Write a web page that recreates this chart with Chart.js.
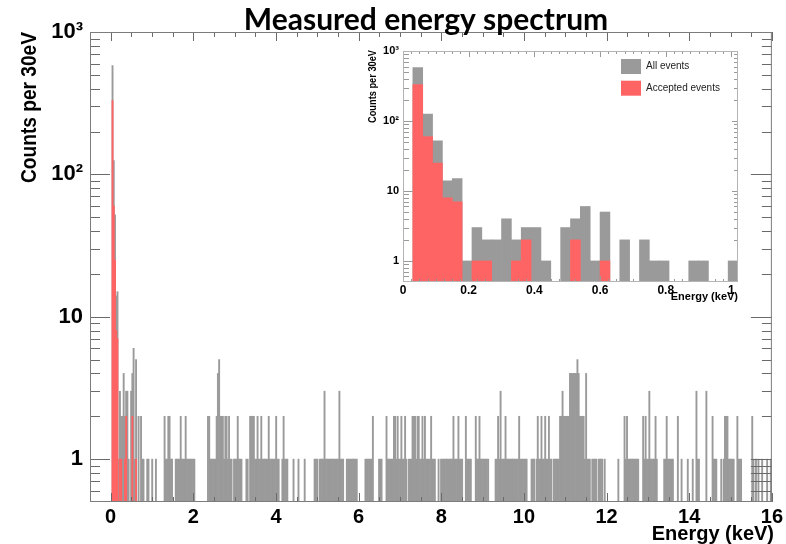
<!DOCTYPE html>
<html>
<head>
<meta charset="utf-8">
<title>Measured energy spectrum</title>
<script src="https://cdn.jsdelivr.net/npm/chart.js@4.4.1/dist/chart.umd.min.js"></script>
<style>
  body { margin: 0; background: #fff; }
  #wrap { position: relative; width: 786px; height: 544px; }
  #mainChart { position: absolute; left: 0; top: 0; }
  #insetChart { position: absolute; left: 340px; top: 40px; }
</style>
</head>
<body>
<div id="wrap">
  <canvas id="mainChart" width="786" height="544"></canvas>
  <canvas id="insetChart" width="410" height="270"></canvas>
</div>
<script>
// histogram bins are 30 eV wide, bin 0 starts at 0 keV
const binWidth = 0.03;

// all events, counts per bin (10 bins = 0.3 keV per row)
const allEvents = [
  0, 580, 125, 52, 14, 15, 1, 3, 2, 2,   // 0.0 keV
  4, 2, 3, 3, 1, 0, 3, 4, 6, 1,          // 0.3
  5, 0, 2, 0, 2, 1, 1, 0, 0, 1,          // 0.6
  1, 0, 0, 1, 0, 0, 1, 0, 0, 0,          // 0.9
  0, 0, 0, 2, 1, 1, 2, 2, 1, 1,          // 1.2
  0, 0, 1, 1, 1, 1, 2, 1, 1, 1,          // 1.5
  2, 1, 1, 1, 1, 1, 1, 1, 0, 0,          // 1.8
  0, 0, 0, 0, 0, 0, 0, 0, 2, 2,          // 2.1
  1, 1, 1, 1, 1, 2, 4, 5, 2, 2,          // 2.4
  2, 1, 2, 2, 1, 2, 1, 1, 0, 1,          // 2.7
  1, 1, 2, 1, 1, 1, 0, 0, 0, 1,          // 3.0
  1, 0, 2, 2, 2, 2, 1, 1, 2, 1,          // 3.3
  1, 2, 1, 1, 1, 1, 1, 2, 1, 1,          // 3.6
  1, 1, 1, 2, 1, 1, 0, 0, 1, 2,          // 3.9
  1, 1, 1, 0, 0, 0, 0, 1, 0, 0,          // 4.2
  0, 1, 0, 0, 0, 0, 1, 0, 0, 0,          // 4.5
  0, 0, 0, 0, 1, 1, 1, 0, 1, 1,          // 4.8
  1, 1, 3, 1, 1, 1, 1, 1, 1, 1,          // 5.1
  1, 1, 1, 1, 3, 1, 1, 1, 0, 0,          // 5.4
  1, 1, 1, 1, 1, 1, 1, 1, 1, 0,          // 5.7
  0, 0, 0, 0, 0, 1, 1, 1, 1, 1,          // 6.0
  1, 2, 0, 0, 0, 0, 1, 1, 1, 0,          // 6.3
  0, 0, 2, 1, 1, 1, 1, 1, 2, 2,          // 6.6
  1, 2, 1, 1, 2, 1, 1, 2, 1, 0,          // 6.9
  1, 1, 1, 2, 2, 2, 1, 2, 2, 1,          // 7.2
  1, 2, 1, 2, 1, 1, 1, 1, 2, 1,          // 7.5
  1, 1, 0, 0, 1, 0, 1, 1, 1, 1,          // 7.8
  1, 1, 1, 1, 1, 1, 2, 1, 1, 1,          // 8.1
  2, 1, 1, 1, 0, 0, 2, 1, 1, 1,          // 8.4
  1, 0, 0, 0, 2, 1, 1, 2, 1, 1,          // 8.7
  1, 1, 1, 1, 1, 0, 0, 0, 0, 0,          // 9.0
  1, 1, 2, 1, 3, 1, 1, 1, 2, 1,          // 9.3
  1, 1, 1, 1, 1, 1, 1, 1, 1, 2,          // 9.6
  1, 1, 1, 1, 1, 1, 0, 0, 0, 1,          // 9.9
  1, 1, 0, 1, 2, 1, 1, 2, 1, 1,          // 10.2
  2, 1, 1, 2, 1, 1, 0, 1, 1, 1,          // 10.5
  1, 1, 2, 2, 3, 2, 2, 2, 2, 2,          // 10.8
  4, 4, 4, 4, 4, 4, 5, 4, 2, 2,          // 11.1
  2, 2, 1, 4, 1, 1, 1, 0, 1, 1,          // 11.4
  1, 1, 0, 1, 1, 1, 1, 0, 1, 0,          // 11.7
  0, 0, 0, 0, 0, 0, 0, 0, 0, 1,          // 12.0
  0, 0, 0, 0, 2, 1, 2, 1, 1, 1,          // 12.3
  1, 1, 1, 1, 1, 1, 0, 0, 0, 2,          // 12.6
  1, 2, 1, 1, 3, 1, 1, 1, 1, 2,          // 12.9
  1, 0, 0, 0, 0, 0, 1, 1, 2, 1,          // 13.2
  1, 1, 1, 1, 0, 0, 0, 2, 0, 0,          // 13.5
  1, 0, 0, 0, 0, 1, 0, 0, 0, 1,          // 13.8
  0, 0, 3, 1, 1, 0, 0, 0, 0, 0,          // 14.1
  3, 0, 0, 0, 0, 2, 1, 1, 1, 0,          // 14.4
  0, 0, 1, 0, 1, 2, 2, 2, 1, 1,          // 14.7
  1, 1, 1, 0, 0, 2, 1, 1, 1, 0,          // 15.0
  0, 0, 0, 0, 0, 0, 0, 2, 1, 0,          // 15.3
  1, 0, 1, 0, 0, 1, 0, 0, 0, 1,          // 15.6
  0, 0, 1, 0                             // 15.9
];

// accepted events, counts per bin (all later bins are empty)
const acceptedEvents = [
  0, 330, 60, 25, 8, 7, 0, 1, 1, 0,
  0, 1, 2, 0, 0, 0, 0, 2, 0, 0,
  1
];

const insetBins = 34; // inset shows 0 - 1.02 keV

const mainXTicks = [0, 2, 4, 6, 8, 10, 12, 14, 16];
const insetXTicks = [0, 0.2, 0.4, 0.6, 0.8, 1];
const insetXTickLabels = ['0', '0.2', '0.4', '0.6', '0.8', '1'];
const yTicks = [1, 10, 100, 1000];
const yTickLabels = ['1', '10', '10\u00b2', '10\u00b3'];

const grayFill = '#9a9a9a';
const redFill = '#ff6464';

const toPoints = (counts, nBins) => counts.slice(0, nBins).map((c, i) => ({x: (i + 0.5) * binWidth, y: c > 0 ? c : null}));

//frame and inward ticks, like the ROOT canvas
const rootFrame = {
  id: 'rootFrame',
  afterDatasetsDraw(chart, args, o) {
    const {ctx, chartArea: a, scales: {x, y}} = chart;
    ctx.save();
    ctx.lineWidth = 1;
    ctx.strokeStyle = o.tickColor;
    ctx.beginPath();
    const xStart = Math.ceil(x.min / o.xMinor - 1e-9) * o.xMinor;
    for (let v = xStart; v <= x.max + 1e-9; v += o.xMinor) {
      const isMajor = Math.abs(v / o.xMajor - Math.round(v / o.xMajor)) < 1e-6;
      const len = isMajor ? o.xMajorLen : o.xMinorLen;
      const px = Math.round(x.getPixelForValue(v)) + 0.5;
      ctx.moveTo(px, a.bottom); ctx.lineTo(px, a.bottom - len);
      ctx.moveTo(px, a.top); ctx.lineTo(px, a.top + len);
    }
    for (let d = Math.floor(Math.log10(y.min)); d <= Math.ceil(Math.log10(y.max)); d++) {
      for (let m = 1; m <= 9; m++) {
        const v = m * Math.pow(10, d);
        if (v < y.min * 1.0001 || v > y.max * 1.0001) continue;
        const py = Math.round(y.getPixelForValue(v)) + 0.5;
        const leftLen = m === 1 ? o.yMajorLen : o.yMinorLen;
        let rightLen = m === 1 ? o.yRightMajorLen : o.yRightMinorLen;
        if (v < 1 && o.yRightLowLen) rightLen = o.yRightLowLen;
        ctx.moveTo(a.left, py); ctx.lineTo(a.left + leftLen, py);
        ctx.moveTo(a.right, py); ctx.lineTo(a.right - rightLen, py);
      }
    }
    ctx.stroke();
    ctx.strokeStyle = o.frameColor;
    ctx.strokeRect(a.left + 0.5, a.top + 0.5, a.right - a.left - 1, a.bottom - a.top - 1);
    ctx.restore();
  }
};

//titles drawn by hand so they sit where ROOT put them
const rootText = {
  id: 'rootText',
  afterDraw(chart, args, o) {
    const ctx = chart.ctx;
    for (const t of o.items) {
      ctx.save();
      ctx.font = t.font;
      ctx.fillStyle = t.color || '#000';
      ctx.textAlign = t.align || 'left';
      ctx.textBaseline = t.baseline || 'alphabetic';
      ctx.translate(t.x, t.y);
      if (t.rotate) ctx.rotate(t.rotate * Math.PI / 180);
      const w = ctx.measureText(t.text).width;
      if (t.fit && w > t.fit) ctx.scale(t.fit / w, 1);
      ctx.fillText(t.text, 0, 0);
      ctx.restore();
    }
  }
};

//boxed legend inside the inset frame
const boxLegend = {
  id: 'boxLegend',
  afterDraw(chart, args, o) {
    if (!o.show) return;
    const {ctx, chartArea: a} = chart;
    ctx.save();
    ctx.font = o.font;
    ctx.textBaseline = 'middle';
    chart.data.datasets.forEach((ds, i) => {
      const bx = a.right - o.right;
      const by = a.top + o.top + i * o.rowGap;
      ctx.fillStyle = ds.backgroundColor;
      ctx.fillRect(bx, by, o.boxW, o.boxH);
      ctx.fillStyle = '#222';
      ctx.fillText(ds.label, bx + o.boxW + 5, by + o.boxH / 2);
    });
    ctx.restore();
  }
};

const makeDatasets = (nBins) => [
  {label: 'All events', data: toPoints(allEvents, nBins), backgroundColor: grayFill, order: 2},
  {label: 'Accepted events', data: toPoints(acceptedEvents, nBins), backgroundColor: redFill, order: 1}
];

const axisFont = (size) => ({family: '"Liberation Sans", Arial, sans-serif', size: size, weight: 'bold'});

const mainChart = new Chart(document.getElementById('mainChart'), {
  type: 'bar',
  data: {datasets: makeDatasets(allEvents.length)},
  plugins: [rootFrame, rootText],
  options: {
    responsive: false,
    animation: false,
    layout: {padding: {top: 32, right: 12, left: 0, bottom: 0}},
    datasets: {bar: {grouped: false, barPercentage: 1, categoryPercentage: 1, borderWidth: 0}},
    scales: {
      x: {
        type: 'linear', min: -0.5, max: 16, offset: false,
        afterBuildTicks: (s) => { s.ticks = mainXTicks.map(v => ({value: v})); },
        afterFit: (s) => { s.height = 42; },
        ticks: {callback: (v) => String(v), font: axisFont(20), color: '#000', padding: 3, maxRotation: 0, autoSkip: false},
        grid: {display: false, drawTicks: false, offset: false},
        border: {display: false}
      },
      y: {
        type: 'logarithmic', min: 0.5, max: 1000,
        afterBuildTicks: (s) => { s.ticks = yTicks.map(v => ({value: v})); },
        afterFit: (s) => { s.width = 90; },
        ticks: {callback: (v, i) => yTickLabels[i], font: axisFont(22), color: '#000', padding: 7, autoSkip: false},
        grid: {display: false, drawTicks: false},
        border: {display: false}
      }
    },
    plugins: {
      legend: {display: false},
      tooltip: {enabled: false},
      rootFrame: {
        frameColor: '#7c7c7c', tickColor: '#6a6a6a',
        xMajor: 2, xMinor: 0.5, xMajorLen: 9, xMinorLen: 5,
        yMajorLen: 20, yMinorLen: 10, yRightMajorLen: 21, yRightMinorLen: 10, yRightLowLen: 21
      },
      rootText: {
        items: [
          {text: 'Measured energy spectrum', x: 426, y: 30, font: 'bold 30px Lato', align: 'center'},
          {text: 'Counts per 30eV', x: 30, y: 32, rotate: -90, align: 'right', baseline: 'middle',
           font: 'bold 22px "Liberation Sans"', fit: 151},
          {text: 'Energy (keV)', x: 774, y: 540, align: 'right', font: 'bold 20px "Liberation Sans"', fit: 141}
        ]
      }
    }
  }
});

const insetChart = new Chart(document.getElementById('insetChart'), {
  type: 'bar',
  data: {datasets: makeDatasets(insetBins)},
  plugins: [rootFrame, rootText, boxLegend],
  options: {
    responsive: false,
    animation: false,
    layout: {padding: {top: 11, right: 12, left: 0, bottom: 0}},
    datasets: {bar: {grouped: false, barPercentage: 1, categoryPercentage: 1, borderWidth: 0}},
    scales: {
      x: {
        type: 'linear', min: 0, max: 1.02, offset: false,
        afterBuildTicks: (s) => { s.ticks = insetXTicks.map(v => ({value: v})); },
        afterFit: (s) => { s.height = 28; },
        ticks: {callback: (v, i) => insetXTickLabels[i], font: axisFont(12), color: '#000', padding: 1, maxRotation: 0, autoSkip: false},
        grid: {display: false, drawTicks: false, offset: false},
        border: {display: false}
      },
      y: {
        type: 'logarithmic', min: 0.5, max: 1000,
        afterBuildTicks: (s) => { s.ticks = yTicks.map(v => ({value: v})); },
        afterFit: (s) => { s.width = 63; },
        ticks: {callback: (v, i) => yTickLabels[i], font: axisFont(11), color: '#000', padding: 4, autoSkip: false},
        grid: {display: false, drawTicks: false},
        border: {display: false}
      }
    },
    plugins: {
      legend: {display: false},
      tooltip: {enabled: false},
      rootFrame: {
        frameColor: '#b4b4b4', tickColor: '#9a9a9a',
        xMajor: 0.2, xMinor: 0.025, xMajorLen: 6, xMinorLen: 3,
        yMajorLen: 10, yMinorLen: 6, yRightMajorLen: 6, yRightMinorLen: 4
      },
      rootText: {
        items: [
          {text: 'Counts per 30eV', x: 33, y: 10, rotate: -90, align: 'right', baseline: 'middle',
           font: 'bold 10px "Liberation Sans"', fit: 73},
          {text: 'Energy (keV)', x: 398, y: 260, align: 'right', font: 'bold 11px "Liberation Sans"', fit: 70}
        ]
      },
      boxLegend: {show: true, right: 117, top: 8, rowGap: 21.7, boxW: 20, boxH: 15, font: '10px "Liberation Sans"'}
    }
  }
});
</script>
</body>
</html>
